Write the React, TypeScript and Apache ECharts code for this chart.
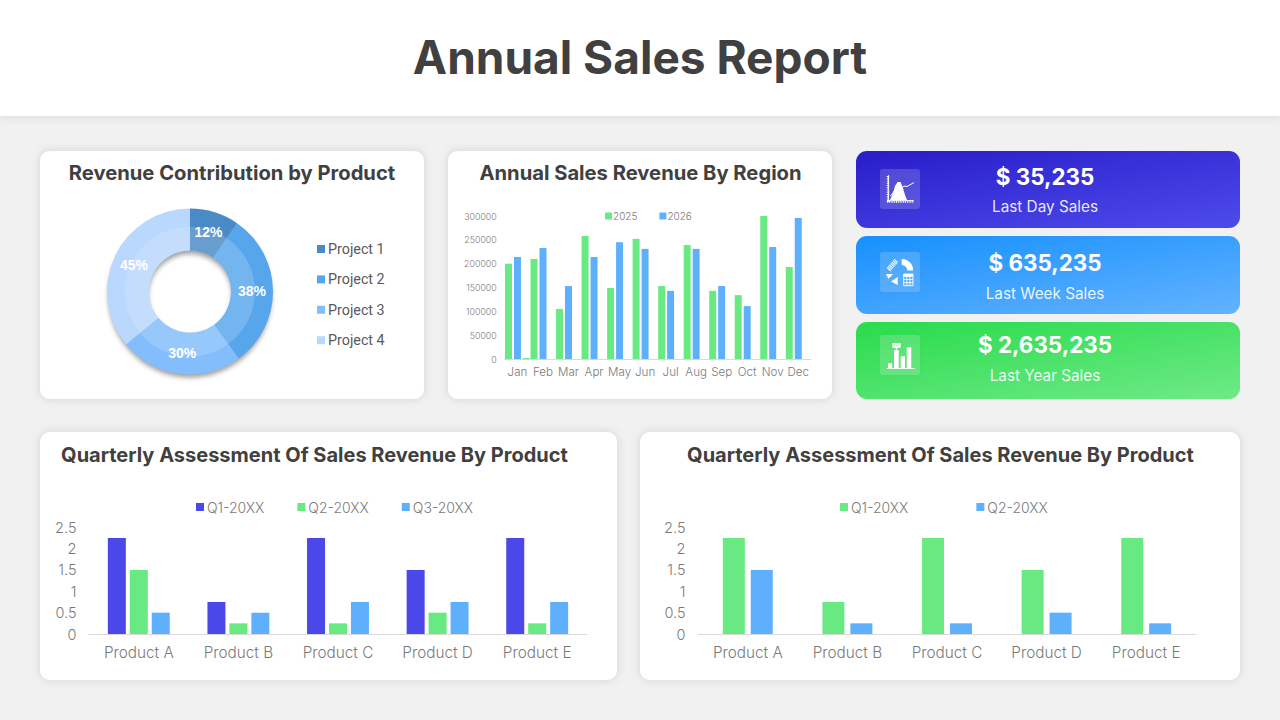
import React, { useEffect, useRef } from "react";
import * as echarts from "echarts";

const months = ["Jan","Feb","Mar","Apr","May","Jun","Jul","Aug","Sep","Oct","Nov","Dec"];
const sales2025 = [200000,210000,105000,258000,149000,252000,153000,239000,143000,134000,300000,193000];
const sales2026 = [214000,233000,153000,214000,245000,231000,143000,231000,153000,111000,235000,296000];
const salesExtra = [2000,null,null,null,null,null,null,null,null,null,null,null];
const projects = ["Project 1","Project 2","Project 3","Project 4"];
const projectValues = [12,38,30,45];
const products = ["Product A","Product B","Product C","Product D","Product E"];
const leftQ1 = [2.25,0.75,2.25,1.5,2.25];
const leftQ2 = [1.5,0.25,0.25,0.5,0.25];
const leftQ3 = [0.5,0.5,0.75,0.75,0.75];
const rightQ1 = [2.25,0.75,2.25,1.5,2.25];
const rightQ2 = [1.5,0.25,0.25,0.5,0.25];
const statValues = ["$ 35,235","$ 635,235","$ 2,635,235"];
const statLabels = ["Last Day Sales","Last Week Sales","Last Year Sales"];

const FONT = "Inter";
const DARK = "#404040";
const GREY = "#7a7a7a";
const INDIGO = "#4a48e8";
const GREEN = "#69e981";
const BLUE = "#5eb0fd";
const PIE = ["#4a8ac6","#57a6ec","#83bdfc","#bad7fd"];

function card(x:number,y:number,w:number,h:number){
  return {type:"rect",z:-5,shape:{x,y,width:w,height:h,r:10},style:{fill:"#fff",shadowBlur:10,shadowColor:"rgba(0,0,0,0.13)"}};
}
function grad(a:string,b:string){
  return new echarts.graphic.LinearGradient(0.1,0,0.9,1,[{offset:0,color:a},{offset:1,color:b}]);
}
function stat(y:number,h:number,a:string,b:string,i:number,iy:number,vy:number,ly:number){
  return [
    {type:"rect",z:-5,shape:{x:856,y,width:384,height:h,r:11},style:{fill:grad(a,b)}},
    {type:"rect",z:-4,shape:{x:880,y:iy,width:40,height:40,r:3},style:{fill:"rgba(255,255,255,0.16)",shadowBlur:5,shadowOffsetY:1,shadowColor:"rgba(0,0,0,0.12)"}},
    {type:"text",z:-3,style:{x:1045,y:vy,text:statValues[i],fill:"#fff",font:`700 22.4px ${FONT}`,textAlign:"center",textVerticalAlign:"middle"}},
    {type:"text",z:-3,style:{x:1045,y:ly,text:statLabels[i],fill:"rgba(255,255,255,0.9)",font:`400 15.3px ${FONT}`,textAlign:"center",textVerticalAlign:"middle"}},
  ];
}
const W = {fill:"#fff"};
function iconChart(ox:number,oy:number){
  return {type:"group",x:ox,y:oy,z:-2,children:[
    {type:"line",z:-2,shape:{x1:8,y1:7,x2:8,y2:33},style:{stroke:"#fff",lineWidth:2.4,lineDash:[1,0.8]}},
    {type:"line",z:-2,shape:{x1:7,y1:32.5,x2:34,y2:32.5},style:{stroke:"#fff",lineWidth:2.4,lineDash:[1,0.8]}},
    {type:"rect",z:-2,shape:{x:8,y:6,width:0.8,height:27},style:W},
    {type:"rect",z:-2,shape:{x:7,y:31,width:27,height:0.8},style:W},
    {type:"polygon",z:-2,shape:{points:[[10,31],[13,24],[15,17],[17.5,13],[20.5,13],[23,19],[25,26],[27,31]]},style:W},
    {type:"polyline",z:-2,shape:{points:[[10.5,27],[16,20],[21,20],[24,17],[27,17.5],[34,13.5]]},style:{stroke:"#fff",fill:"none",lineWidth:1}},
  ]};
}
function iconPie(ox:number,oy:number){
  const calc:any[]=[
    {type:"rect",z:-2,shape:{x:23.7,y:22,width:9.3,height:11.7},style:{fill:"none",stroke:"#fff",lineWidth:0.9}},
    {type:"rect",z:-2,shape:{x:23.7,y:22,width:9.3,height:2.8},style:W},
  ];
  [27.5,30.6].forEach(v=>calc.push({type:"line",z:-2,shape:{x1:23.7,y1:v,x2:33,y2:v},style:{stroke:"#fff",lineWidth:0.9}}));
  [26.8,29.9].forEach(v=>calc.push({type:"line",z:-2,shape:{x1:v,y1:24,x2:v,y2:33.7},style:{stroke:"#fff",lineWidth:0.9}}));
  return {type:"group",x:ox,y:oy,z:-2,children:[
    {type:"sector",z:-2,shape:{cx:21.7,cy:18.5,r0:5.5,r:11.5,startAngle:-Math.PI/2,endAngle:0},style:W},
    {type:"polygon",z:-2,shape:{points:[[6,22],[13,22],[8.5,27]]},style:W},
    {type:"polygon",z:-2,shape:{points:[[11,29.5],[17.7,25],[17.7,33]]},style:W},
    {type:"line",z:-2,shape:{x1:8.5,y1:17.5,x2:16.5,y2:8.5},style:{stroke:"#fff",lineWidth:5,lineDash:[1.1,0.7]}},
    ...calc,
  ]};
}
function iconBars(ox:number,oy:number){
  return {type:"group",x:ox,y:oy,z:-2,children:[
    {type:"rect",z:-2,shape:{x:6.7,y:33,width:28,height:0.9},style:W},
    {type:"rect",z:-2,shape:{x:8,y:28.3,width:4.2,height:5},style:W},
    {type:"rect",z:-2,shape:{x:14,y:15,width:4.7,height:18},style:W},
    {type:"rect",z:-2,shape:{x:20.7,y:21.3,width:4.3,height:12},style:W},
    {type:"rect",z:-2,shape:{x:26.7,y:12.3,width:4.6,height:21},style:W},
    {type:"rect",z:-2,shape:{x:12.3,y:8,width:8.4,height:4.7},style:W},
    {type:"polygon",z:-2,shape:{points:[[15,12.5],[18,12.5],[16.5,15]]},style:W},
    {type:"polyline",z:-2,shape:{points:[[14,11],[15.5,9.5],[17,11],[19,9.5]]},style:{stroke:"rgba(90,220,120,0.8)",fill:"none",lineWidth:0.7}},
  ]};
}

function lightText(size:number){return {fontFamily:FONT,fontWeight:300 as any,fontSize:size,color:GREY};}
const plain=(v:number)=>String(v);

function buildOption(){
  const titles=[
    {text:"Annual Sales Report",left:640,top:33.5,fs:46},
    {text:"Revenue Contribution by Product",left:232,top:162,fs:20.2},
    {text:"Annual Sales Revenue By Region",left:640.5,top:162,fs:20.2},
    {text:"Quarterly Assessment Of Sales Revenue By Product",left:314.5,top:445,fs:20},
    {text:"Quarterly Assessment Of Sales Revenue By Product",left:940.5,top:445,fs:20},
  ].map(t=>({text:t.text,left:t.left,top:t.top,padding:0,textAlign:"center",textStyle:{fontFamily:FONT,fontWeight:700 as any,fontSize:t.fs,color:DARK}}));

  const graphic=[
    {type:"rect",z:-6,shape:{x:0,y:0,width:1280,height:116},style:{fill:"#fff",shadowBlur:10,shadowOffsetY:1,shadowColor:"rgba(0,0,0,0.1)"}},
    card(40,151,384,248),card(448,151,384,248),card(40,432,577,248),card(640,432,600,248),
    {type:"ring",z:-3,shape:{cx:190,cy:292,r:81.5,r0:42},style:{fill:"#8fb8e8",shadowBlur:5,shadowOffsetY:4,shadowColor:"rgba(0,0,0,0.38)"}},
    ...stat(151,77,"#2a1fcb","#4c49ea",0,169,176.5,206.5),
    ...stat(236,78,"#1a92fd","#60b1ff",1,252,262.5,293.5),
    ...stat(322,77,"#2cdc4e","#6ce985",2,335,344.5,375.5),
    iconChart(880,169),iconPie(880,252),iconBars(880,335),
  ];

  const grid=[
    {left:504.7,top:216,width:306.3,height:143},
    {left:89,top:527.3,width:498,height:106.7},
    {left:698,top:527.3,width:498,height:106.7},
  ];
  const xAxis:any[]=[
    {gridIndex:0,type:"category",data:months,axisTick:{show:false},axisLine:{lineStyle:{color:"#d9d9d9"}},axisLabel:{...lightText(11.6),margin:7,interval:0}},
    {gridIndex:1,type:"category",data:products,axisTick:{show:false},axisLine:{lineStyle:{color:"#d9d9d9"}},axisLabel:{...lightText(15.3),margin:11,interval:0}},
    {gridIndex:2,type:"category",data:products,axisTick:{show:false},axisLine:{lineStyle:{color:"#d9d9d9"}},axisLabel:{...lightText(15.3),margin:11,interval:0}},
  ];
  const yAxis:any[]=[
    {gridIndex:0,type:"value",min:0,max:300000,interval:50000,splitLine:{show:false},axisLabel:{...lightText(8.8),margin:8,formatter:plain}},
    {gridIndex:1,type:"value",min:0,max:2.5,interval:0.5,splitLine:{show:false},axisLabel:{...lightText(14.5),margin:12.5,formatter:plain}},
    {gridIndex:2,type:"value",min:0,max:2.5,interval:0.5,splitLine:{show:false},axisLabel:{...lightText(14.5),margin:12.5,formatter:plain}},
  ];
  const bar=(name:string,data:any[],ax:number,color:string,w:number,gap:string)=>({type:"bar",name,data,xAxisIndex:ax,yAxisIndex:ax,barWidth:w,barGap:gap,itemStyle:{color}});
  const pieData=projects.map((name,i)=>({name,value:projectValues[i],itemStyle:{color:PIE[i]}}));
  const pieBase={type:"pie",center:[190,291.5],startAngle:90,clockwise:true,silent:true,legendHoverLink:false,labelLine:{show:false}};
  const series:any[]=[
    {...pieBase,name:"Revenue",radius:[41,83],data:pieData,label:{show:false},z:2},
    {...pieBase,name:"Highlight",radius:[41,65],data:projects.map((name,i)=>({name:name+" inner",value:projectValues[i],itemStyle:{color:"rgba(255,255,255,0.17)"}})),label:{show:false},z:3},
    {...pieBase,name:"Labels",radius:[41,77],data:projects.map((name,i)=>({name:name+" label",value:projectValues[i],itemStyle:{color:"rgba(0,0,0,0)"}})),z:4,
      label:{show:true,position:"inside",formatter:(p:any)=>p.value+"%",fontFamily:"Liberation Sans",fontWeight:700,fontSize:14,color:"#fff"}},
    bar("2025",sales2025,0,GREEN,7,"28%"),
    bar("2026",sales2026,0,BLUE,7,"28%"),
    bar("extra",salesExtra,0,GREEN,7,"28%"),
    bar("Q1-20XX",leftQ1,1,INDIGO,18,"22%"),
    bar("Q2-20XX",leftQ2,1,GREEN,18,"22%"),
    bar("Q3-20XX",leftQ3,1,BLUE,18,"22%"),
    {...bar("Q1-20XX",rightQ1,2,GREEN,22,"27%"),id:"rq1"},
    {...bar("Q2-20XX",rightQ2,2,BLUE,22,"27%"),id:"rq2"},
  ];
  const legendBase={icon:"rect",selectedMode:false,orient:"horizontal",padding:0};
  const legend:any[]=[
    {...legendBase,orient:"vertical",left:317,top:242,itemWidth:8,itemHeight:8,itemGap:16.4,data:projects.map((name,i)=>({name,itemStyle:{color:PIE[i]}})),textStyle:{fontFamily:"Roboto",fontSize:14.3,color:"#595959",padding:[0,0,0,-2]}},
    {...legendBase,left:605,top:211,itemWidth:7,itemHeight:7,itemGap:22,data:[{name:"2025",itemStyle:{color:GREEN}},{name:"2026",itemStyle:{color:BLUE}}],textStyle:{...lightText(10),padding:[0,0,0,-4]}},
    {...legendBase,left:196,top:500,itemWidth:8,itemHeight:8,itemGap:33,data:[{name:"Q1-20XX",itemStyle:{color:INDIGO}},{name:"Q2-20XX",itemStyle:{color:GREEN}},{name:"Q3-20XX",itemStyle:{color:BLUE}}],textStyle:{...lightText(14),padding:[0,0,0,-2]}},
    {...legendBase,left:840,top:500,itemWidth:8,itemHeight:8,itemGap:68,data:[{name:"Q1-20XX",itemStyle:{color:GREEN}},{name:"Q2-20XX",itemStyle:{color:BLUE}}],textStyle:{...lightText(14),padding:[0,0,0,-2]}},
  ];
  return {animation:false,backgroundColor:"#f1f1f1",title:titles,graphic:{elements:graphic},grid,xAxis,yAxis,series,legend};
}

export default function App(){
  const ref=useRef<HTMLDivElement>(null);
  useEffect(()=>{
    const chart=echarts.init(ref.current!,undefined,{renderer:"svg"});
    chart.setOption(buildOption());
    return ()=>chart.dispose();
  },[]);
  return <div ref={ref} style={{position:"absolute",left:0,top:0,width:1280,height:720}}/>;
}
